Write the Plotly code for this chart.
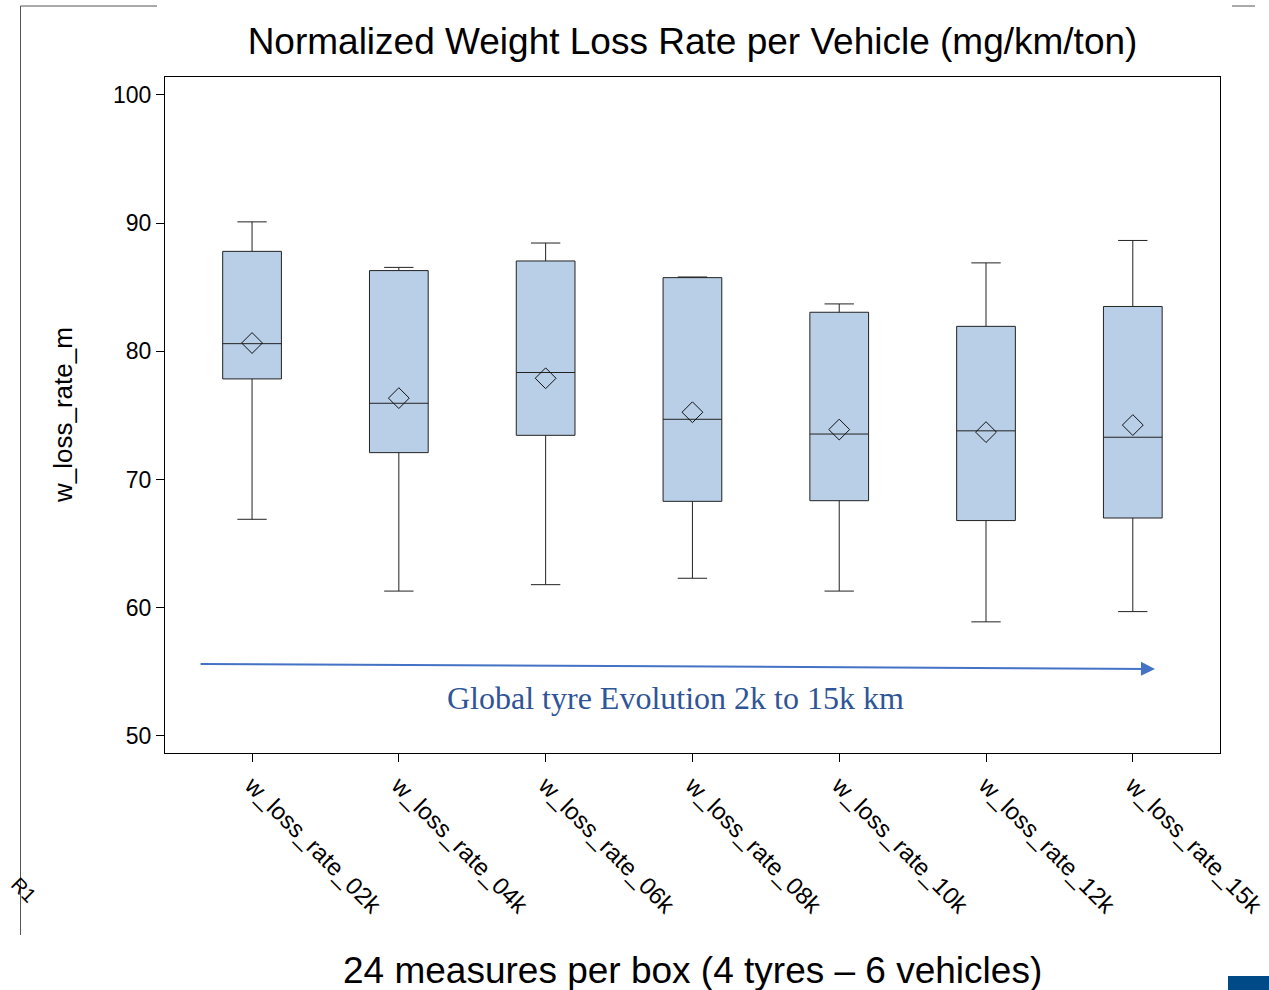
import plotly.graph_objects as go

# Box statistics per measurement step (mg/km/ton)
categories = ["w_loss_rate_02k", "w_loss_rate_04k", "w_loss_rate_06k", "w_loss_rate_08k",
              "w_loss_rate_10k", "w_loss_rate_12k", "w_loss_rate_15k"]
minimum = [66.9, 61.3, 61.8, 62.3, 61.3, 58.9, 59.7]
q1 = [77.85, 72.1, 73.45, 68.3, 68.35, 66.8, 67.0]
median = [80.6, 75.95, 78.35, 74.7, 73.55, 73.8, 73.3]
q3 = [87.8, 86.3, 87.05, 85.75, 83.05, 81.95, 83.5]
maximum = [90.1, 86.55, 88.45, 85.8, 83.7, 86.9, 88.65]
mean = [80.65, 76.35, 77.9, 75.25, 73.9, 73.7, 74.25]

y_ticks = [50, 60, 70, 80, 90, 100]

W, H = 1269, 990
L, R, T, B = 165, 49, 77, 237
PW, PH = W - L - R, H - T - B


def px(x):
    return (x - L) / PW


def py(y):
    return (H - B - y) / PH


fig = go.Figure()

fig.add_trace(go.Box(
    x=categories, q1=q1, median=median, q3=q3,
    lowerfence=minimum, upperfence=maximum,
    width=0.4, whiskerwidth=0.5,
    fillcolor="#B9CFE7",
    line=dict(color="#222222", width=1),
    boxpoints=False, showlegend=False, hoverinfo="y",
))

fig.add_trace(go.Scatter(
    x=categories, y=mean, mode="markers",
    marker=dict(symbol="diamond-open", size=16, color="#111111", line=dict(width=1, color="#111111")),
    showlegend=False, hoverinfo="y",
))

font = "Liberation Sans, Arial, sans-serif"

fig.update_layout(
    width=W, height=H,
    margin=dict(l=L, r=R, t=T, b=B, autoexpand=False),
    paper_bgcolor="white", plot_bgcolor="white",
    title=dict(text="Normalized Weight Loss Rate per Vehicle (mg/km/ton)",
               x=0.5, xref="paper", xanchor="center",
               y=1 - 41 / H, yref="container", yanchor="middle",
               font=dict(family=font, size=37, color="black")),
    xaxis=dict(type="category", range=[-0.593, 6.594], automargin=False,
               showline=True, linecolor="black", linewidth=1, mirror=True,
               ticks="outside", ticklen=8, tickcolor="black", tickwidth=1,
               tickangle=45, showgrid=False, zeroline=False,
               tickfont=dict(family=font, size=24, color="black")),
    yaxis=dict(range=[48.67, 101.4], tickvals=y_ticks, automargin=False,
               showline=True, linecolor="black", linewidth=1, mirror=True,
               ticks="outside", ticklen=8, tickcolor="black", tickwidth=1,
               showgrid=False, zeroline=False,
               tickfont=dict(family=font, size=23, color="black")),
)

# Axis titles
fig.add_annotation(text="w_loss_rate_m", xref="paper", yref="paper",
                   x=px(63), y=0.5, textangle=-90, showarrow=False,
                   xanchor="center", yanchor="middle",
                   font=dict(family=font, size=26, color="black"))
fig.add_annotation(text="24 measures per box (4 tyres \u2013 6 vehicles)",
                   xref="paper", yref="paper", x=0.5, y=py(970), showarrow=False,
                   xanchor="center", yanchor="middle",
                   font=dict(family=font, size=37, color="black"))

# Evolution arrow and caption
fig.add_annotation(x=6.151, y=55.23, ax=-0.361, ay=55.62, xref="x", yref="y",
                   axref="x", ayref="y", text="", showarrow=True,
                   arrowhead=2, arrowsize=1.4, arrowwidth=2, arrowcolor="#4472C4")
fig.add_annotation(text="Global tyre Evolution 2k to 15k km", x=2.888, y=52.96,
                   xref="x", yref="y", showarrow=False, xanchor="center", yanchor="middle",
                   font=dict(family="Liberation Serif, Times New Roman, serif", size=32, color="#2F5597"))

# Slide frame remnants
frame = dict(color="#555555", width=1)
fig.add_shape(type="line", xref="paper", yref="paper", x0=px(20.5), x1=px(20.5), y0=py(6), y1=py(935), line=frame)
fig.add_shape(type="line", xref="paper", yref="paper", x0=px(20.5), x1=px(157), y0=py(6), y1=py(6), line=frame)
fig.add_shape(type="line", xref="paper", yref="paper", x0=px(1232), x1=px(1255), y0=py(6), y1=py(6), line=frame)
fig.add_shape(type="rect", xref="paper", yref="paper", x0=px(1228), x1=px(1269), y0=py(976), y1=py(990),
              line=dict(width=0), fillcolor="#004A87")
fig.add_annotation(text="R1", xref="paper", yref="paper", x=px(24), y=py(890), textangle=45,
                   showarrow=False, xanchor="center", yanchor="middle",
                   font=dict(family=font, size=20, color="black"))

fig.write_html("out.html")
